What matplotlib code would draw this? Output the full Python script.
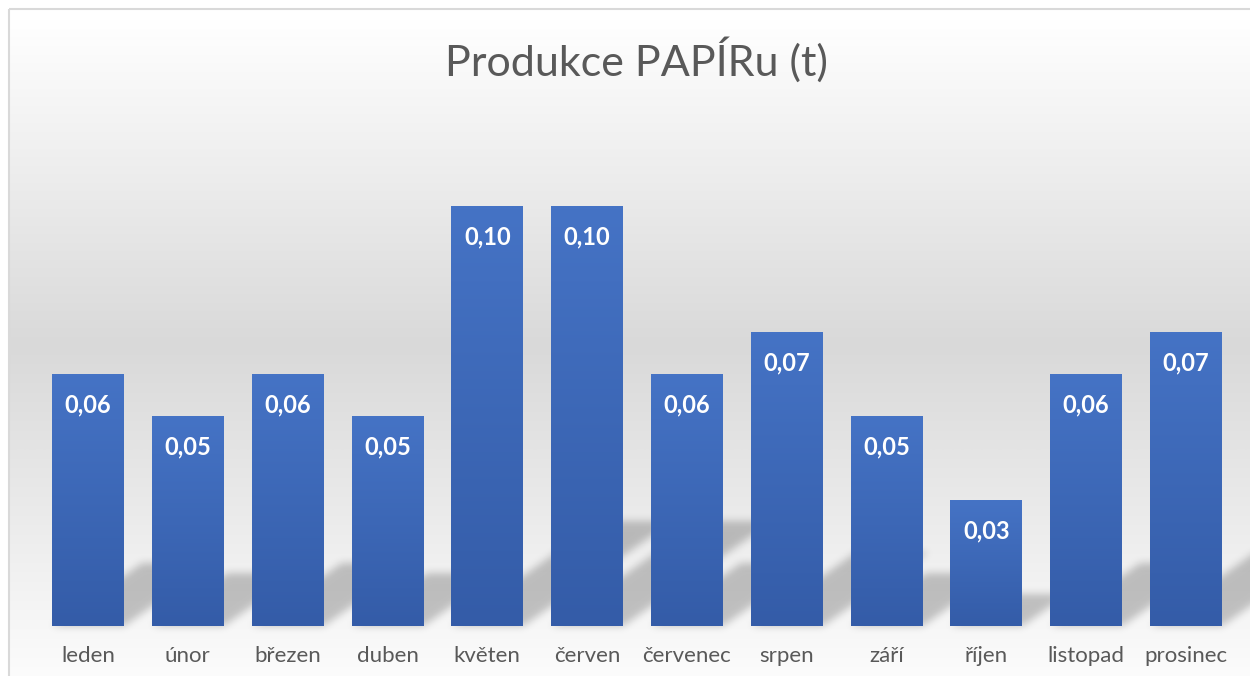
import numpy as np
import matplotlib
matplotlib.use('Agg')
import matplotlib.pyplot as plt
from matplotlib.colors import to_rgb

plt.rcParams['font.family'] = ['Lato', 'DejaVu Sans']

# ---- data ----
months = ['leden', 'únor', 'březen', 'duben', 'květen', 'červen',
          'červenec', 'srpen', 'září', 'říjen', 'listopad', 'prosinec']
values = [0.06, 0.05, 0.06, 0.05, 0.10, 0.10, 0.06, 0.07, 0.05, 0.03, 0.06, 0.07]
title = 'Produkce PAPÍRu (t)'

W, H = 1250, 676
fig = plt.figure(figsize=(W / 100, H / 100), dpi=100)

# ---- background gradient + border ----
bg = fig.add_axes([0, 0, 1, 1], zorder=0)
bg.set_xlim(0, W)
bg.set_ylim(H, 0)
bg.axis('off')
rows = np.arange(H)
g = np.interp(rows, [10, 340, 676], [255, 217, 252]) / 255.0
img = np.repeat(g[:, None], 2, axis=1)
bg.imshow(np.dstack([img, img, img]), extent=[10, W, H, 10], aspect='auto',
          interpolation='bilinear')
bg.plot([9, 9], [9, H], color='#d9d9d9', lw=1.5, solid_capstyle='butt')
bg.plot([9, W], [9, 9], color='#d9d9d9', lw=1.5, solid_capstyle='butt')
bg.set_xlim(0, W)
bg.set_ylim(H, 0)

# ---- main axes ----
ax = fig.add_axes([38.1 / W, 50 / H, 1197.8 / W, 504 / H], zorder=1)
ax.patch.set_alpha(0)
x = np.arange(len(months))
bw = 0.72
bars = ax.bar(x, values, width=bw, color='#3d68b8', zorder=2)
ax.set_xlim(-0.5, len(months) - 0.5)
ax.set_ylim(0, 0.12)

# bar gradients
top_c = np.array(to_rgb('#4573c5'))
bot_c = np.array(to_rgb('#345ca8'))
n = 64
t = np.linspace(0, 1, n)[:, None]
gradarr = (top_c[None, :] * (1 - t) + bot_c[None, :] * t)[:, None, :]
for p in bars:
    ax.imshow(gradarr, extent=[p.get_x(), p.get_x() + p.get_width(), 0, p.get_height()],
              aspect='auto', zorder=2.1, interpolation='bilinear')

# perspective shadows (raster, blurred)
fig.canvas.draw()
tr = ax.transData
ax_l, ax_b = tr.transform((-0.5, 0))
ax_r, ax_t = tr.transform((len(months) - 0.5, 0.12))
gx0, gx1 = int(ax_l) - 10, int(ax_r) + 60
gy0, gy1 = int(ax_b) - 15, int(ax_b) + 160
X = np.arange(gx0, gx1) + 0.5
Y = np.arange(gy0, gy1) + 0.5
mask = np.zeros((len(Y), len(X)))
k = 0.7
for p in bars:
    (L, b) = tr.transform((p.get_x(), 0))
    (R, tp) = tr.transform((p.get_x() + p.get_width(), p.get_height()))
    h = 0.25 * (tp - b)
    dy = Y[:, None] - b
    shift = dy / k
    m = (dy >= 0) & (dy <= h) & (X[None, :] >= L + shift) & (X[None, :] <= R + shift)
    mask = np.maximum(mask, m.astype(float))
sig = 4.0
kx = np.arange(-12, 13)
kern = np.exp(-kx ** 2 / (2 * sig ** 2))
kern /= kern.sum()
mask = np.apply_along_axis(lambda r: np.convolve(r, kern, mode='same'), 1, mask)
mask = np.apply_along_axis(lambda c: np.convolve(c, kern, mode='same'), 0, mask)
rgba = np.zeros((len(Y), len(X), 4))
rgba[..., 3] = mask * 0.22
inv = tr.inverted()
ex0, ey0 = inv.transform((gx0, gy0))
ex1, ey1 = inv.transform((gx1, gy1))
ax.imshow(rgba[::-1], extent=[ex0, ex1, ey0, ey1], aspect='auto', zorder=1.5,
          interpolation='bilinear', clip_on=False)
ax.set_xlim(-0.5, len(months) - 0.5)
ax.set_ylim(0, 0.12)

# data labels
for xi, v in zip(x, values):
    ax.annotate(f'{v:.2f}'.replace('.', ','), (xi, v), xytext=(0, -22.3),
                textcoords='offset points', ha='center', va='center',
                color='white', fontweight='bold', fontsize=17, zorder=3)

# axes styling
for s in ax.spines.values():
    s.set_visible(False)
ax.set_yticks([])
ax.set_xticks(x)
ax.set_xticklabels(months)
ax.tick_params(axis='x', length=0, pad=14.5, labelsize=16, labelcolor='#595959')

fig.text(636.5 / W, 1 - 60 / H, title, ha='center', va='center',
         fontsize=31, color='#595959')

fig.savefig('out.png', dpi=100)
